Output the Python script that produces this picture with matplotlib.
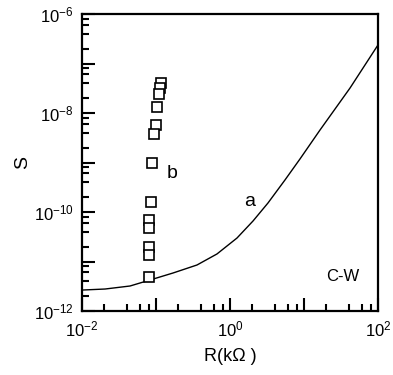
import numpy as np
import matplotlib.pyplot as plt
from matplotlib.ticker import LogLocator, FuncFormatter, NullFormatter

plt.rcParams['font.family'] = ['Liberation Sans', 'DejaVu Sans']
plt.rcParams['mathtext.fontset'] = 'custom'
plt.rcParams['mathtext.rm'] = 'Liberation Sans'
plt.rcParams['mathtext.it'] = 'Liberation Sans'

# curve a
r_a = [0.01, 0.0205, 0.0446, 0.083, 0.170, 0.358, 0.667, 1.243, 2.05, 3.26,
       5.53, 8.83, 16.4, 41.9, 100]
s_a = [2.65e-12, 2.78e-12, 3.2e-12, 4.23e-12, 5.86e-12, 8.5e-12, 1.42e-11,
       2.98e-11, 6.6e-11, 1.52e-10, 4.43e-10, 1.18e-9, 4.5e-9, 3.2e-8, 2.37e-7]

# squares b
r_b = [0.117, 0.113, 0.110, 0.103, 0.100, 0.094, 0.088, 0.0855, 0.080,
       0.080, 0.080, 0.080, 0.080]
s_b = [4.0e-8, 3.2e-8, 2.4e-8, 1.32e-8, 5.7e-9, 3.8e-9, 9.8e-10, 1.6e-10,
       6.9e-11, 4.75e-11, 1.96e-11, 1.35e-11, 4.9e-12]

x_labels = [1e-2, 1e0, 1e2]
y_labels = [1e-12, 1e-10, 1e-8, 1e-6]

fig = plt.figure(figsize=(3.93, 3.75), dpi=100)
ax = fig.add_axes([82/393, 1 - 311/375, 296/393, 297/375])

ax.plot(r_a, s_a, color='black', lw=1.0)
ax.plot(r_b, s_b, ls='none', marker='s', ms=7.5, mfc='white',
        mec='black', mew=1.2)

ax.set_xscale('log')
ax.set_yscale('log')
ax.set_xlim(1e-2, 1e2)
ax.set_ylim(1e-12, 1e-6)


def make_fmt(shown):
    def f(v, pos):
        if any(abs(v - t) / t < 1e-6 for t in shown):
            return r'$10^{%d}$' % int(round(np.log10(v)))
        return ''
    return FuncFormatter(f)


ax.xaxis.set_major_locator(LogLocator(base=10, numticks=10))
ax.yaxis.set_major_locator(LogLocator(base=10, numticks=10))
ax.xaxis.set_minor_locator(LogLocator(base=10, subs=[2, 4, 6, 8], numticks=20))
ax.yaxis.set_minor_locator(LogLocator(base=10, subs=[2, 4, 6, 8], numticks=20))
ax.xaxis.set_major_formatter(make_fmt(x_labels))
ax.yaxis.set_major_formatter(make_fmt(y_labels))
ax.xaxis.set_minor_formatter(NullFormatter())
ax.yaxis.set_minor_formatter(NullFormatter())

ax.tick_params(which='both', direction='in', top=False, right=False, width=1.5)
ax.tick_params(which='major', length=9.5, labelsize=12, pad=6)
ax.tick_params(which='minor', length=5)
for s in ax.spines.values():
    s.set_linewidth(1.6)

ax.set_xlabel('R(k\u03a9 )', fontsize=13, labelpad=6)
ax.set_ylabel('S', fontsize=14, labelpad=2)

ax.text(1.86, 1.6e-10, 'a', fontsize=14, ha='center', va='center')
ax.text(0.164, 6.1e-10, 'b', fontsize=14, ha='center', va='center')
ax.text(33.6, 4.9e-12, 'C-W', fontsize=12, ha='center', va='center')

fig.savefig('out.png', dpi=100)
